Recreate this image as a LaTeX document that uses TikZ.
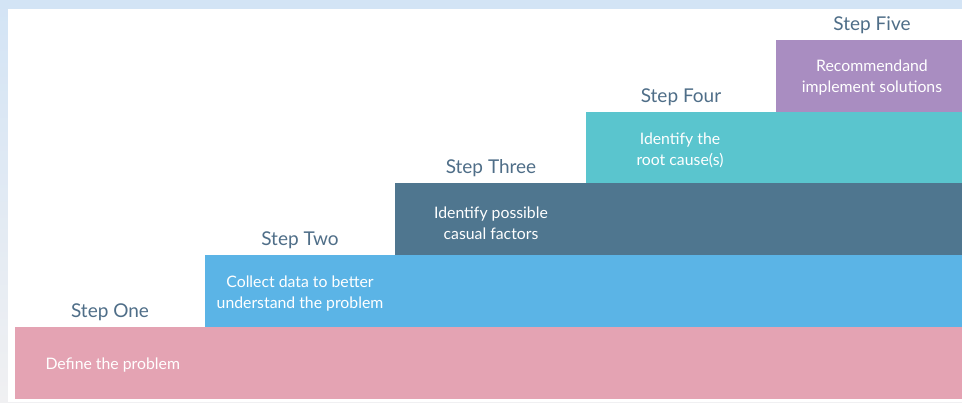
\documentclass[tikz,border=0pt]{standalone}
\usepackage{fontspec}
\setmainfont{Lato}
\definecolor{bgblue}{HTML}{D3E4F5}
\definecolor{bggrey}{HTML}{F0F0F2}
\definecolor{cpink}{HTML}{E4A3B3}
\definecolor{cblue}{HTML}{5BB4E6}
\definecolor{cslate}{HTML}{4F768F}
\definecolor{cteal}{HTML}{5AC5CE}
\definecolor{cpurple}{HTML}{A98DC1}
\definecolor{ctitle}{HTML}{4F6E88}
\begin{document}
\begin{tikzpicture}[x=1pt,y=-1pt,
  steptitle/.style={text=ctitle, font=\fontsize{19}{22}\selectfont, anchor=base},
  boxtext/.style={text=white, font=\fontsize{15.8}{21}\selectfont, align=center}]
\useasboundingbox (0,0) rectangle (962,402);
\shade[top color=bgblue, bottom color=bggrey] (0,0) rectangle (962,402);
\fill[bgblue] (0,0) rectangle (962,9);
\fill[white] (8,9) rectangle (962,402);
% boxes
\fill[cpink]   (15,327) rectangle (962,399);
\fill[cblue]   (205,255) rectangle (962,327);
\fill[cslate]  (395,183) rectangle (962,255);
\fill[cteal]   (586,112) rectangle (962,183);
\fill[cpurple] (776,40) rectangle (962,112);
% titles
\node[steptitle] (t1) at (110,317) {Step One};
\node[steptitle] (t2) at (300,245) {Step Two};
\node[steptitle] (t3) at (491,173) {Step Three};
\node[steptitle] (t4) at (681,102) {Step Four};
\node[steptitle] (t5) at (872,30) {Step Five};
% box texts
\node[boxtext, anchor=west] (d1) at (42,365) {Define the problem};
\node[boxtext] (d2) at (300,294) {Collect data to better\\understand the problem};
\node[boxtext] (d3) at (491,223) {Identify possible\\casual factors};
\node[boxtext] (d4) at (680,150) {Identify the\\root cause(s)};
\node[boxtext] (d5) at (872,78) {Recommendand\\implement solutions};
\end{tikzpicture}
\end{document}
